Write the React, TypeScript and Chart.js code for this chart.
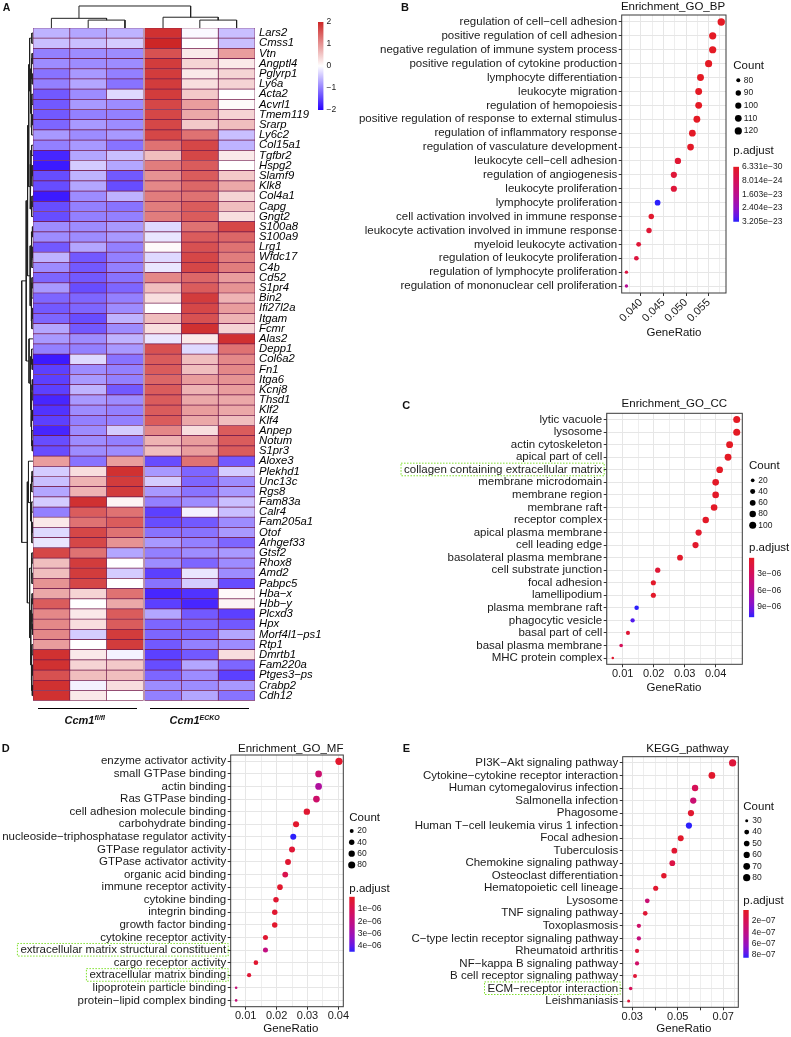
import React, { useEffect, useRef } from 'react';
import { Chart, registerables } from 'chart.js';
Chart.register(...registerables);

const FONT = "'Liberation Sans', Arial, Helvetica, sans-serif";
Chart.defaults.font.family = FONT;

// ---------------- Panel A: heatmap data ----------------
const genes = ['Lars2','Cmss1','Vtn','Angptl4','Pglyrp1','Ly6a','Acta2','Acvrl1','Tmem119','Srarp','Ly6c2','Col15a1','Tgfbr2','Hspg2','Slamf9','Klk8','Col4a1','Capg','Gngt2','S100a8','S100a9','Lrg1','Wfdc17','C4b','Cd52','S1pr4','Bin2','Ifi27l2a','Itgam','Fcmr','Alas2','Depp1','Col6a2','Fn1','Itga6','Kcnj8','Thsd1','Klf2','Klf4','Anpep','Notum','S1pr3','Aloxe3','Plekhd1','Unc13c','Rgs8','Fam83a','Calr4','Fam205a1','Otof','Arhgef33','Gtsf2','Rhox8','Amd2','Pabpc5','Hba−x','Hbb−y','Plcxd3','Hpx','Morf4l1−ps1','Rtp1','Dmrtb1','Fam220a','Ptges3−ps','Crabp2','Cdh12'];

const sample1 = [-0.6,-0.5,-1.0,-0.9,-1.1,-1.0,-1.3,-1.3,-1.3,-1.2, -0.8,-1.0,-1.7,-1.8,-1.4,-1.4,-1.8,-1.4,-1.4,-0.9, -0.9,-1.3,-0.6,-0.9,-1.2,-0.8,-1.2,-1.3,-1.2,-0.7, -0.8,-1.0,-1.8,-1.5,-1.5,-1.5,-1.7,-1.6,-1.5,-1.7, -1.4,-1.4,0.9,-0.4,-0.5,-0.7,-0.4,-1.0,0.2,-0.3, -0.2,1.7,0.6,0.6,1.0,0.8,1.5,1.1,1.1,1.1, 0.9,1.9,1.9,1.6,1.9,1.9];
const sample2 = [-0.7,-0.5,-0.9,-0.9,-0.8,-0.7,-0.9,-0.8,-1.0,-0.8, -0.9,-0.8,-0.7,-0.4,-0.6,-0.7,-0.9,-1.0,-1.0,-0.9, -0.9,-0.7,-1.3,-1.3,-1.3,-1.4,-1.2,-1.2,-1.4,-1.3, -0.9,-1.0,-0.3,-0.9,-0.8,-0.6,-0.8,-0.9,-1.0,-0.9, -0.9,-0.9,-1.1,0.3,0.7,0.7,1.9,1.5,1.3,1.7, 1.7,1.3,1.8,1.8,1.7,0.4,0.0,0.2,0.3,-0.4, 0.0,0.2,0.4,0.6,-0.1,0.2];
const sample3 = [-0.6,-0.4,-0.9,-0.9,-1.0,-1.1,-0.3,-0.9,-1.0,-0.9, -0.8,-1.1,-0.5,-0.7,-1.3,-1.4,-0.6,-1.1,-1.0,-0.8, -0.8,-1.0,-1.0,-1.0,-1.1,-1.2,-1.0,-0.9,-0.6,-0.9, -0.6,-0.8,-1.1,-1.0,-1.0,-1.3,-0.9,-1.0,-1.0,-0.4, -1.0,-0.9,0.9,1.9,1.8,1.8,0.1,1.3,1.5,1.3, 1.0,-0.7,0.0,-0.4,0.0,1.3,0.8,1.5,1.5,1.8, 1.8,-0.1,0.5,0.6,0.3,0.0];
const sample4 = [1.9,2.0,1.6,1.8,1.8,1.8,1.8,1.7,1.7,1.7, 1.7,1.3,0.6,1.2,1.0,1.1,1.2,1.2,1.2,-0.3, -0.2,0.05,-0.3,-0.2,1.1,0.6,0.3,0.0,0.6,0.3, -0.2,1.6,1.5,1.5,1.4,1.5,1.5,1.5,1.5,1.1, 0.7,0.6,-1.4,-0.8,-0.4,-0.8,-1.0,-1.5,-1.4,-1.1, -0.8,-1.0,-0.9,-1.5,-1.1,-1.7,-1.5,-0.7,-1.2,-1.2, -1.3,-1.5,-1.4,-1.2,-0.9,-1.0];
const sample5 = [-0.05,0.0,0.2,0.4,0.2,0.3,0.5,0.9,0.8,0.5, 1.3,1.7,1.7,1.5,1.5,1.4,1.3,1.5,1.5,1.3, 1.5,1.6,1.7,1.7,1.4,1.5,1.8,1.7,1.6,1.9, 0.2,-0.3,0.6,0.6,0.9,0.7,0.8,0.9,0.8,0.3, 0.9,0.9,1.3,-1.2,-1.2,-1.1,-0.9,-0.1,-1.3,-1.1, -1.0,-0.9,-1.2,-0.2,-0.4,-1.6,-1.7,-1.3,-1.2,-1.2, -1.0,-1.3,-0.7,-0.9,-0.9,-0.7];
const sample6 = [-0.5,-0.5,0.9,0.2,0.4,0.4,0.0,0.05,0.4,0.6, -0.5,-0.6,0.2,0.0,0.5,0.8,0.4,0.6,0.3,1.7, 1.4,1.3,1.2,1.2,0.9,1.0,0.7,0.9,0.7,0.4, 1.9,1.3,1.1,1.1,1.0,0.9,0.8,0.8,0.6,1.5, 1.5,1.5,-1.3,-0.4,-0.9,-0.8,-0.5,-0.5,-0.9,-0.8, -1.2,-0.8,-0.9,-0.9,-1.4,0.05,0.1,-1.5,-1.3,-0.7, -0.9,0.3,-1.2,-1.5,-0.8,-1.1];

const heatBreaks = [-2, -1, 0, 1, 2];
const heatBreakLabels = ['−2', '−1', '0', '1', '2'];

// dendrograms: [left, right, height]
type Tree = number | [Tree, Tree, number];
const colTree: Tree = [[0, [1, 2, 0.36], 0.44], [3, [4, 5, 0.36], 0.49], 1.0];
const rowUpperA: Tree = [[0, 1, 0.1], [[[2, 3, 0.08], [4, 5, 0.07], 0.13], [[6, 7, 0.1], [[8, 9, 0.07], 10, 0.12], 0.16], 0.2], 0.3];
const rowUpperB: Tree = [[[11, 12, 0.12], [[13, 14, 0.08], 15, 0.1], 0.18], [[16, 17, 0.09], 18, 0.12], 0.24];
const rowUpperC: Tree = [[[19, 20, 0.05], [[21, 22, 0.08], 23, 0.1], 0.14], [[[24, 25, 0.09], 26, 0.12], [[27, 28, 0.07], 29, 0.1], 0.16], 0.25];
const rowUpperD: Tree = [30, [[31, [32, 33, 0.07], 0.12], [[[34, 35, 0.06], 36, 0.09], [[37, 38, 0.05], [39, [40, 41, 0.06], 0.11], 0.14], 0.17], 0.22], 0.35];
const rowLowerA: Tree = [42, [[[43, 44, 0.08], 45, 0.11], [[46, 47, 0.12], [[48, 49, 0.07], 50, 0.1], 0.15], 0.22], 0.4];
const rowLowerB: Tree = [[[51, 52, 0.1], [53, 54, 0.09], 0.15], [[[55, 56, 0.08], [57, [58, 59, 0.05], 0.09], 0.13], [[60, 61, 0.1], [[62, 63, 0.07], [64, 65, 0.06], 0.11], 0.15], 0.2], 0.3];
const rowTree: Tree = [[[[rowUpperA, rowUpperB, 0.38], rowUpperC, 0.48], rowUpperD, 0.6], [rowLowerA, rowLowerB, 0.5], 1.0];

// ---------------- Panel B: GO BP ----------------
const bpTerms = ['regulation of cell−cell adhesion','positive regulation of cell adhesion','negative regulation of immune system process','positive regulation of cytokine production','lymphocyte differentiation','leukocyte migration','regulation of hemopoiesis','positive regulation of response to external stimulus','regulation of inflammatory response','regulation of vasculature development','leukocyte cell−cell adhesion','regulation of angiogenesis','leukocyte proliferation','lymphocyte proliferation','cell activation involved in immune response','leukocyte activation involved in immune response','myeloid leukocyte activation','regulation of leukocyte proliferation','regulation of lymphocyte proliferation','regulation of mononuclear cell proliferation'];
const bpRatio = [0.0578,0.0559,0.0559,0.0550,0.0532,0.0528,0.0528,0.0524,0.0514,0.0510,0.0482,0.0473,0.0473,0.0437,0.0423,0.0418,0.0395,0.0390,0.0368,0.0368];
const bpCount = [124,120,120,118,114,113,113,112,110,109,103,101,101,94,91,90,85,84,79,79];
const bpPadj = [6.331e-30,2.1e-27,3.5e-27,1.2e-26,4.0e-26,8.5e-26,1.1e-25,1.9e-25,4.2e-25,6.0e-25,2.3e-24,3.1e-24,3.3e-24,3.205e-23,1.5e-24,2.6e-24,2.9e-24,4.1e-24,4.5e-24,1.7e-23];
const bpCountBreaks = [80, 90, 100, 110, 120];
const bpPadjBreaks = [6.331e-30, 8.014e-24, 1.603e-23, 2.404e-23, 3.205e-23];
const bpPadjLabels = ['6.331e−30', '8.014e−24', '1.603e−23', '2.404e−23', '3.205e−23'];
const bpXGrid = [0.0375, 0.04, 0.0425, 0.045, 0.0475, 0.05, 0.0525, 0.055, 0.0575];
const bpXBreaks = [0.04, 0.045, 0.05, 0.055];
const bpXLabels = ['0.040', '0.045', '0.050', '0.055'];

// ---------------- Panel C: GO CC ----------------
const ccTerms = ['lytic vacuole','lysosome','actin cytoskeleton','apical part of cell','collagen containing extracellular matrix','membrane microdomain','membrane region','membrane raft','receptor complex','apical plasma membrane','cell leading edge','basolateral plasma membrane','cell substrate junction','focal adhesion','lamellipodium','plasma membrane raft','phagocytic vesicle','basal part of cell','basal plasma membrane','MHC protein complex'];
const ccRatio = [0.0468,0.0468,0.0445,0.0440,0.0413,0.0400,0.0400,0.0395,0.0368,0.0345,0.0335,0.0285,0.0213,0.0199,0.0199,0.0145,0.0132,0.0117,0.0095,0.0068];
const ccCount = [100,100,95,94,88,86,86,85,79,74,72,61,46,43,43,31,28,25,20,15];
const ccPadj = [2e-9,2e-9,3e-8,5e-8,1e-7,1.5e-7,1.6e-7,1.8e-7,2e-7,4e-7,4e-7,3e-7,9e-7,3e-7,3e-7,1.1e-5,1.02e-5,9e-7,2.8e-6,6e-7];
const ccCountBreaks = [20, 40, 60, 80, 100];
const ccPadjBreaks = [3e-6, 6e-6, 9e-6];
const ccPadjLabels = ['3e−06', '6e−06', '9e−06'];
const ccXGrid = [0.005, 0.01, 0.015, 0.02, 0.025, 0.03, 0.035, 0.04, 0.045];
const ccXBreaks = [0.01, 0.02, 0.03, 0.04];
const ccXLabels = ['0.01', '0.02', '0.03', '0.04'];

// ---------------- Panel D: GO MF ----------------
const mfTerms = ['enzyme activator activity','small GTPase binding','actin binding','Ras GTPase binding','cell adhesion molecule binding','carbohydrate binding','nucleoside−triphosphatase regulator activity','GTPase regulator activity','GTPase activator activity','organic acid binding','immune receptor activity','cytokine binding','integrin binding','growth factor binding','cytokine receptor activity','extracellular matrix structural constituent','cargo receptor activity','extracellular matrix binding','lipoprotein particle binding','protein−lipid complex binding'];
const mfRatio = [0.0402,0.0336,0.0336,0.0329,0.0298,0.0263,0.0254,0.0250,0.0237,0.0228,0.0211,0.0198,0.0194,0.0194,0.0164,0.0164,0.0133,0.0111,0.0069,0.0069];
const mfCount = [84,70,70,69,62,55,53,52,50,48,44,41,41,41,34,34,28,23,14,14];
const mfPadj = [2e-7,1.6e-6,2.6e-6,1.5e-6,3e-7,2e-7,4.47e-6,4e-7,3e-7,9e-7,2e-7,3e-7,3e-7,2e-7,3e-7,2.0e-6,3e-7,4e-7,1.8e-6,1.8e-6];
const mfCountBreaks = [20, 40, 60, 80];
const mfPadjBreaks = [1e-6, 2e-6, 3e-6, 4e-6];
const mfPadjLabels = ['1e−06', '2e−06', '3e−06', '4e−06'];
const mfXGrid = [0.01, 0.015, 0.02, 0.025, 0.03, 0.035, 0.04];
const mfXBreaks = [0.01, 0.02, 0.03, 0.04];
const mfXLabels = ['0.01', '0.02', '0.03', '0.04'];

// ---------------- Panel E: KEGG ----------------
const kgTerms = ['PI3K−Akt signaling pathway','Cytokine−cytokine receptor interaction','Human cytomegalovirus infection','Salmonella infection','Phagosome','Human T−cell leukemia virus 1 infection','Focal adhesion','Tuberculosis','Chemokine signaling pathway','Osteoclast differentiation','Hematopoietic cell lineage','Lysosome','TNF signaling pathway','Toxoplasmosis','C−type lectin receptor signaling pathway','Rheumatoid arthritis','NF−kappa B signaling pathway','B cell receptor signaling pathway','ECM−receptor interaction','Leishmaniasis'];
const kgRatio = [0.0741,0.0650,0.0576,0.0568,0.0558,0.0549,0.0513,0.0485,0.0476,0.0439,0.0403,0.0366,0.0357,0.0329,0.0329,0.0321,0.0321,0.0312,0.0293,0.0284];
const kgCount = [80,70,62,61,60,59,55,52,51,47,43,39,38,35,35,34,34,33,31,30];
const kgPadj = [1.0e-7,5e-8,2.2e-7,3.2e-7,6e-8,8.47e-7,4e-8,7e-8,1.5e-7,5e-8,6e-8,3.3e-7,8e-8,2.8e-7,3.6e-7,1.0e-7,2.8e-7,9e-8,2.2e-7,1.0e-7];
const kgCountBreaks = [30, 40, 50, 60, 70, 80];
const kgPadjBreaks = [2e-7, 4e-7, 6e-7, 8e-7];
const kgPadjLabels = ['2e−07', '4e−07', '6e−07', '8e−07'];
const kgXGrid = [0.03, 0.035, 0.04, 0.045, 0.05, 0.055, 0.06, 0.065, 0.07, 0.075];
const kgXTickMarks = [0.03, 0.04, 0.05, 0.06, 0.07];
const kgXBreaks = [0.03, 0.05, 0.07];
const kgXLabels = ['0.03', '0.05', '0.07'];

// ---------------- helpers ----------------
const RED = [205, 38, 38], BLUE = [38, 0, 255], WHITE = [255, 255, 255];
function mix(a: number[], b: number[], t: number) {
  return `rgb(${Math.round(a[0] + (b[0] - a[0]) * t)},${Math.round(a[1] + (b[1] - a[1]) * t)},${Math.round(a[2] + (b[2] - a[2]) * t)})`;
}
function heatColor(v: number) {
  const t = Math.max(-1, Math.min(1, v / 2));
  return t >= 0 ? mix(WHITE, RED, t) : mix(WHITE, BLUE, -t);
}
const RAMP: [number, number[]][] = [[0, [228, 26, 36]], [0.25, [214, 16, 88]], [0.5, [188, 14, 140]], [0.75, [146, 18, 196]], [0.9, [98, 24, 232]], [1, [44, 32, 252]]];
function rampColor(t: number) {
  t = Math.max(0, Math.min(1, t));
  for (let i = 0; i < RAMP.length - 1; i++) {
    const [t0, c0] = RAMP[i], [t1, c1] = RAMP[i + 1];
    if (t <= t1) return mix(c0, c1, (t - t0) / (t1 - t0));
  }
  return mix(RAMP[RAMP.length - 1][1], RAMP[RAMP.length - 1][1], 0);
}

function dendroPoints(tree: Tree, leafPos: (i: number) => number) {
  const out: { pos: number; h: number }[] = [];
  const walk = (t: Tree): { pos: number; h: number } => {
    if (typeof t === 'number') return { pos: leafPos(t), h: 0 };
    const a = walk(t[0]), b = walk(t[1]);
    const h = t[2];
    out.push({ pos: a.pos, h: a.h }, { pos: a.pos, h }, { pos: b.pos, h }, { pos: b.pos, h: b.h }, { pos: NaN, h: NaN });
    return { pos: (a.pos + b.pos) / 2, h };
  };
  walk(tree);
  return out;
}

type Area = { l: number; t: number; r: number; b: number };
type Axes = { left?: number; right?: number; top?: number; bottom?: number };
const PAD = 16;
function place(a: Area, ax: Axes) {
  const L = ax.left || 0, R = ax.right || 0, T = ax.top || 0, B = ax.bottom || 0;
  const cl = Math.floor(a.l - L - PAD), ct = Math.floor(a.t - T - PAD);
  const cr = Math.ceil(a.r + R + PAD), cb = Math.ceil(a.b + B + PAD);
  return { left: cl, top: ct, width: cr - cl, height: cb - ct, padding: { left: a.l - L - cl, top: a.t - T - ct, right: cr - a.r - R, bottom: cb - a.b - B } };
}

function ChartCanvas({ area, axes, make }: { area: Area; axes: Axes; make: () => any }) {
  const ref = useRef<HTMLCanvasElement>(null);
  const pl = place(area, axes);
  useEffect(() => {
    const cfg = make();
    cfg.options = { responsive: false, maintainAspectRatio: false, animation: false, events: [], ...(cfg.options || {}), layout: { padding: pl.padding } };
    cfg.options.plugins = { legend: { display: false }, tooltip: { enabled: false }, title: { display: false }, ...(cfg.options.plugins || {}) };
    const ch = new Chart(ref.current as HTMLCanvasElement, cfg);
    return () => ch.destroy();
  }, []);
  return <canvas ref={ref} width={pl.width} height={pl.height} style={{ position: 'absolute', left: pl.left, top: pl.top, width: pl.width, height: pl.height }} />;
}

function Txt({ x, y, size, children, align = 'left', bold = false, italic = false, color = '#111' }: any) {
  const tx = align === 'center' ? '-50%' : align === 'right' ? '-100%' : '0';
  return (
    <div style={{ position: 'absolute', left: x, top: y - 0.8465 * size, fontSize: size, lineHeight: `${size}px`, fontWeight: bold ? 700 : 400, fontStyle: italic ? 'italic' : 'normal', whiteSpace: 'nowrap', transform: `translateX(${tx})`, color, fontFamily: FONT }}>
      {children}
    </div>
  );
}

// ---------------- plugins ----------------
const boxPlugin = {
  id: 'panelBox',
  afterDraw(chart: any) {
    const { ctx, chartArea: a } = chart;
    ctx.save();
    ctx.strokeStyle = '#3a3a3a';
    ctx.lineWidth = 1;
    ctx.strokeRect(a.left, a.top, a.right - a.left, a.bottom - a.top);
    ctx.restore();
  },
};
const hlPlugin = {
  id: 'hl',
  afterDraw(chart: any, _args: any, opts: any) {
    const idx: number[] = (opts && opts.idx) || [];
    if (!idx.length) return;
    const { ctx, chartArea } = chart;
    const ys = chart.scales.y;
    const labels = ys.getLabels();
    ctx.save();
    ctx.font = `11.5px ${FONT}`;
    ctx.strokeStyle = '#7ee02a';
    ctx.lineWidth = 1;
    ctx.setLineDash([1.5, 1.5]);
    idx.forEach((i) => {
      const py = ys.getPixelForTick(i);
      const w = ctx.measureText(labels[i]).width;
      const right = chartArea.left - 4.5;
      ctx.strokeRect(right - w - 3, py - 6.6, w + 5, 12.6);
    });
    ctx.restore();
  },
};

// ---------------- config builders ----------------
type DotSpec = {
  terms: string[]; ratio: number[]; count: number[]; padj: number[];
  pMin: number; pMax: number; xMin: number; xMax: number;
  xGrid: number[]; xBreaks: number[]; xLabels: string[]; xTickMarks: number[];
  rot: number; W: number; xH: number; rMin: number; rMax: number; highlight: number[];
  countBreaks: number[]; padjBreaks: number[]; padjLabels: string[];
};
const near = (arr: number[], v: number) => arr.findIndex((a) => Math.abs(a - v) < 1e-9);
function makeRad(s: DotSpec) {
  const lo = Math.min(...s.count), hi = Math.max(...s.count);
  return (c: number) => s.rMin + (s.rMax - s.rMin) * Math.sqrt(Math.max(0, Math.min(1, (c - lo) / (hi - lo))));
}

function dotConfig(s: DotSpec) {
  const rad = makeRad(s);
  return {
    type: 'scatter',
    data: {
      datasets: [{
        data: s.terms.map((t, i) => ({ x: s.ratio[i], y: t })),
        pointRadius: s.count.map(rad),
        pointBackgroundColor: s.padj.map((v) => rampColor((v - s.pMin) / (s.pMax - s.pMin))),
        pointBorderWidth: 0,
        pointBorderColor: 'rgba(0,0,0,0)',
        clip: false,
      }],
    },
    options: {
      plugins: { hl: { idx: s.highlight } },
      scales: {
        x: {
          type: 'linear', min: s.xMin, max: s.xMax,
          afterBuildTicks: (sc: any) => { sc.ticks = s.xGrid.map((v) => ({ value: v })); },
          afterFit: (sc: any) => { sc.height = s.xH; },
          ticks: {
            autoSkip: false, maxRotation: s.rot, minRotation: s.rot, padding: 0, color: '#1a1a1a', font: { size: 11 },
            callback: (v: number) => { const k = near(s.xBreaks, v); return k >= 0 ? s.xLabels[k] : ''; },
          },
          grid: {
            color: '#e6e6e6',
            lineWidth: (c: any) => (c.tick && near(s.xBreaks, c.tick.value) >= 0 ? 1 : 0.7),
            tickColor: (c: any) => (c.tick && near(s.xTickMarks, c.tick.value) >= 0 ? '#333' : 'rgba(0,0,0,0)'),
            tickLength: 3,
            tickWidth: 1,
          },
          border: { display: false },
        },
        y: {
          type: 'category', labels: s.terms, offset: true,
          afterFit: (sc: any) => { sc.width = s.W; },
          ticks: { autoSkip: false, padding: 1.5, color: '#1a1a1a', font: { size: 11.5 } },
          grid: { color: '#e6e6e6', lineWidth: 1, tickColor: '#333', tickLength: 3 },
          border: { display: false },
        },
      },
    },
    plugins: [boxPlugin, hlPlugin],
  };
}

function sizeLegendConfig(s: DotSpec) {
  const rad = makeRad(s);
  const labs = s.countBreaks.map(String);
  return {
    type: 'scatter',
    data: { datasets: [{ data: s.countBreaks.map((c) => ({ x: 0, y: String(c) })), pointRadius: s.countBreaks.map(rad), pointBackgroundColor: '#000', pointBorderWidth: 0, clip: false }] },
    options: {
      scales: {
        x: { type: 'linear', min: -1, max: 1, display: false },
        y: { type: 'category', labels: labs, offset: true, position: 'right', afterFit: (sc: any) => { sc.width = 30; }, grid: { display: false, drawTicks: false }, border: { display: false }, ticks: { autoSkip: false, padding: 1.5, color: '#1a1a1a', font: { size: 8.5 } } },
      },
    },
  };
}

function colorbarConfig(lo: number, hi: number, reverse: boolean, breaks: number[], labels: string[], colorAtTop: (t: number) => string) {
  return {
    type: 'bar',
    data: {
      labels: [''],
      datasets: [{
        data: [[lo, hi]],
        backgroundColor: (ctx: any) => {
          const a = ctx.chart.chartArea;
          if (!a) return '#888';
          const g = ctx.chart.ctx.createLinearGradient(0, a.top, 0, a.bottom);
          for (let i = 0; i <= 20; i++) g.addColorStop(i / 20, colorAtTop(i / 20));
          return g;
        },
        borderWidth: 0, barPercentage: 1, categoryPercentage: 1,
      }],
    },
    options: {
      scales: {
        x: { display: false },
        y: {
          min: lo, max: hi, reverse, position: 'right',
          afterBuildTicks: (sc: any) => { sc.ticks = breaks.map((v) => ({ value: v })); },
          afterFit: (sc: any) => { sc.width = 60; },
          grid: { display: false, drawTicks: false }, border: { display: false },
          ticks: { autoSkip: false, padding: 3, color: '#1a1a1a', font: { size: 8.5 }, callback: (_v: number, i: number) => labels[i] },
        },
      },
    },
  };
}

// ---------------- specs ----------------
const specB: DotSpec = { terms: bpTerms, ratio: bpRatio, count: bpCount, padj: bpPadj, pMin: 6.331e-30, pMax: 3.205e-23, xMin: 0.03575, xMax: 0.05885, xGrid: bpXGrid, xBreaks: bpXBreaks, xLabels: bpXLabels, xTickMarks: bpXBreaks, rot: 45, W: 280, xH: 45, rMin: 1.7, rMax: 3.7, highlight: [], countBreaks: bpCountBreaks, padjBreaks: bpPadjBreaks, padjLabels: bpPadjLabels };
const specC: DotSpec = { terms: ccTerms, ratio: ccRatio, count: ccCount, padj: ccPadj, pMin: 2e-9, pMax: 1.1e-5, xMin: 0.00484, xMax: 0.0486, xGrid: ccXGrid, xBreaks: ccXBreaks, xLabels: ccXLabels, xTickMarks: ccXBreaks, rot: 0, W: 215, xH: 30, rMin: 1.3, rMax: 3.5, highlight: [4], countBreaks: ccCountBreaks, padjBreaks: ccPadjBreaks, padjLabels: ccPadjLabels };
const specD: DotSpec = { terms: mfTerms, ratio: mfRatio, count: mfCount, padj: mfPadj, pMin: 1.5e-8, pMax: 4.47e-6, xMin: 0.00514, xMax: 0.0416, xGrid: mfXGrid, xBreaks: mfXBreaks, xLabels: mfXLabels, xTickMarks: mfXBreaks, rot: 0, W: 240, xH: 30, rMin: 1.3, rMax: 3.6, highlight: [15, 17], countBreaks: mfCountBreaks, padjBreaks: mfPadjBreaks, padjLabels: mfPadjLabels };
const specE: DotSpec = { terms: kgTerms, ratio: kgRatio, count: kgCount, padj: kgPadj, pMin: 1.2e-8, pMax: 8.47e-7, xMin: 0.0258, xMax: 0.0766, xGrid: kgXGrid, xBreaks: kgXBreaks, xLabels: kgXLabels, xTickMarks: kgXTickMarks, rot: 0, W: 220, xH: 30, rMin: 1.5, rMax: 3.6, highlight: [18], countBreaks: kgCountBreaks, padjBreaks: kgPadjBreaks, padjLabels: kgPadjLabels };

const panels = [
  { s: specB, box: { l: 621.7, t: 15, r: 726, b: 293 }, size: { l: 734.3, t: 74, r: 742.3, b: 137.3 }, bar: { l: 733.3, t: 166.7, r: 739, b: 221.7 } },
  { s: specC, box: { l: 606.7, t: 413.3, r: 742.3, b: 664.3 }, size: { l: 748.7, t: 474.7, r: 756.7, b: 530.9 }, bar: { l: 749, t: 557.7, r: 754.3, b: 617.3 } },
  { s: specD, box: { l: 230.7, t: 755, r: 343.3, b: 1006.7 }, size: { l: 347.7, t: 825.3, r: 355.7, b: 870.7 }, bar: { l: 349.3, t: 896.7, r: 354.7, b: 951.7 } },
  { s: specE, box: { l: 622.7, t: 756.7, r: 738.3, b: 1007.3 }, size: { l: 742.7, t: 815, r: 750.7, b: 883.4 }, bar: { l: 743.3, t: 910, r: 748.7, b: 957.7 } },
];

// ---------------- heatmap configs ----------------
const heatColumns = [sample1, sample2, sample3, sample4, sample5, sample6];
const GAP = 0.035;
const colCenters = heatColumns.map((_c, i) => i + 0.5 + (i >= 3 ? GAP : 0));

function heatConfig() {
  const cellDs = (col: number[]) => ({
    data: col.map(() => 1),
    backgroundColor: col.map(heatColor),
    borderColor: '#741c4c', borderWidth: 0.7, borderSkipped: false,
    barPercentage: 1, categoryPercentage: 1,
  });
  const gapDs = { data: genes.map(() => GAP), backgroundColor: 'rgba(0,0,0,0)', borderWidth: 0, barPercentage: 1, categoryPercentage: 1 };
  return {
    type: 'bar',
    data: { labels: genes, datasets: [cellDs(sample1), cellDs(sample2), cellDs(sample3), gapDs, cellDs(sample4), cellDs(sample5), cellDs(sample6)] },
    options: {
      indexAxis: 'y',
      scales: {
        x: { stacked: true, display: false, min: 0, max: 6 + GAP },
        y: { stacked: true, position: 'right', offset: true, afterFit: (sc: any) => { sc.width = 110; }, grid: { display: false, drawTicks: false }, border: { display: false }, ticks: { autoSkip: false, padding: 4, color: '#000', font: { size: 11.3, style: 'italic' } } },
      },
    },
  };
}

function dendroConfig(points: { x: number; y: number }[], xs: any, ys: any) {
  return {
    type: 'scatter',
    data: { datasets: [{ data: points, showLine: true, spanGaps: false, borderColor: '#222', borderWidth: 1, pointRadius: 0, clip: false }] },
    options: { scales: { x: { type: 'linear', display: false, ...xs }, y: { type: 'linear', display: false, ...ys } } },
  };
}

const rowDendro = () => dendroConfig(dendroPoints(rowTree, (i) => i + 0.5).map((p) => ({ x: p.h, y: p.pos })), { min: 0, max: 1.195, reverse: true }, { min: 0, max: genes.length, reverse: true });
const colDendro = () => dendroConfig(dendroPoints(colTree, (i) => colCenters[i]).map((p) => ({ x: p.pos, y: p.h })), { min: 0, max: 6 + GAP }, { min: 0, max: 1.0909 });

export default function App() {
  return (
    <div style={{ position: 'absolute', left: 0, top: 0, width: 791, height: 1037, background: '#fff', overflow: 'hidden', fontFamily: FONT }}>
      {/* Panel A */}
      <ChartCanvas area={{ l: 33, t: 28, r: 255, b: 700.7 }} axes={{ right: 110 }} make={heatConfig} />
      <ChartCanvas area={{ l: 19.5, t: 28, r: 33, b: 700.7 }} axes={{}} make={rowDendro} />
      <ChartCanvas area={{ l: 33, t: 4, r: 255, b: 28 }} axes={{}} make={colDendro} />
      <ChartCanvas area={{ l: 318, t: 22, r: 323.5, b: 110 }} axes={{ right: 60 }} make={() => colorbarConfig(-2, 2, false, heatBreaks, heatBreakLabels, (t) => heatColor(2 - 4 * t))} />
      <div style={{ position: 'absolute', left: 38.3, top: 707.6, width: 98.4, height: 1.5, background: '#000' }} />
      <div style={{ position: 'absolute', left: 150, top: 707.6, width: 99.3, height: 1.5, background: '#000' }} />
      <Txt x={84.7} y={724.6} size={11} bold italic align="center">Ccm1<span style={{ fontSize: 7, position: 'relative', top: -4 }}>fl/fl</span></Txt>
      <Txt x={194.7} y={724.6} size={11} bold italic align="center">Ccm1<span style={{ fontSize: 7, position: 'relative', top: -4 }}>ECKO</span></Txt>

      {/* Dot panels */}
      {panels.map((p, k) => (
        <React.Fragment key={k}>
          <ChartCanvas area={p.box} axes={{ left: p.s.W, bottom: p.s.xH }} make={() => dotConfig(p.s)} />
          <ChartCanvas area={p.size} axes={{ right: 30 }} make={() => sizeLegendConfig(p.s)} />
          <ChartCanvas area={p.bar} axes={{ right: 60 }} make={() => colorbarConfig(p.s.pMin, p.s.pMax, true, p.s.padjBreaks, p.s.padjLabels, (t) => rampColor(t))} />
        </React.Fragment>
      ))}

      {/* panel letters */}
      <Txt x={2.7} y={10.5} size={10.5} bold>A</Txt>
      <Txt x={401} y={11.5} size={11} bold>B</Txt>
      <Txt x={402.3} y={409.3} size={11} bold>C</Txt>
      <Txt x={1.7} y={752.7} size={11} bold>D</Txt>
      <Txt x={402.7} y={752.7} size={11} bold>E</Txt>

      {/* titles */}
      <Txt x={673} y={11} size={11.5} align="center">Enrichment_GO_BP</Txt>
      <Txt x={674.3} y={408.2} size={11.5} align="center">Enrichment_GO_CC</Txt>
      <Txt x={290.7} y={753.2} size={11.5} align="center">Enrichment_GO_MF</Txt>
      <Txt x={687.5} y={753} size={11.5} align="center">KEGG_pathway</Txt>

      {/* x axis titles */}
      <Txt x={674} y={337} size={11.5} align="center">GeneRatio</Txt>
      <Txt x={674} y={691.5} size={11.5} align="center">GeneRatio</Txt>
      <Txt x={290.8} y={1033.2} size={11.5} align="center">GeneRatio</Txt>
      <Txt x={683.8} y={1033} size={11.5} align="center">GeneRatio</Txt>

      {/* legend titles */}
      <Txt x={733.3} y={69.5} size={11.5}>Count</Txt>
      <Txt x={733.3} y={155} size={11.5}>p.adjust</Txt>
      <Txt x={749} y={470} size={11.5}>Count</Txt>
      <Txt x={749} y={552.2} size={11.5}>p.adjust</Txt>
      <Txt x={349.3} y={821.5} size={11.5}>Count</Txt>
      <Txt x={349.3} y={892.5} size={11.5}>p.adjust</Txt>
      <Txt x={743.3} y={811} size={11.5}>Count</Txt>
      <Txt x={743.3} y={905} size={11.5}>p.adjust</Txt>
    </div>
  );
}
